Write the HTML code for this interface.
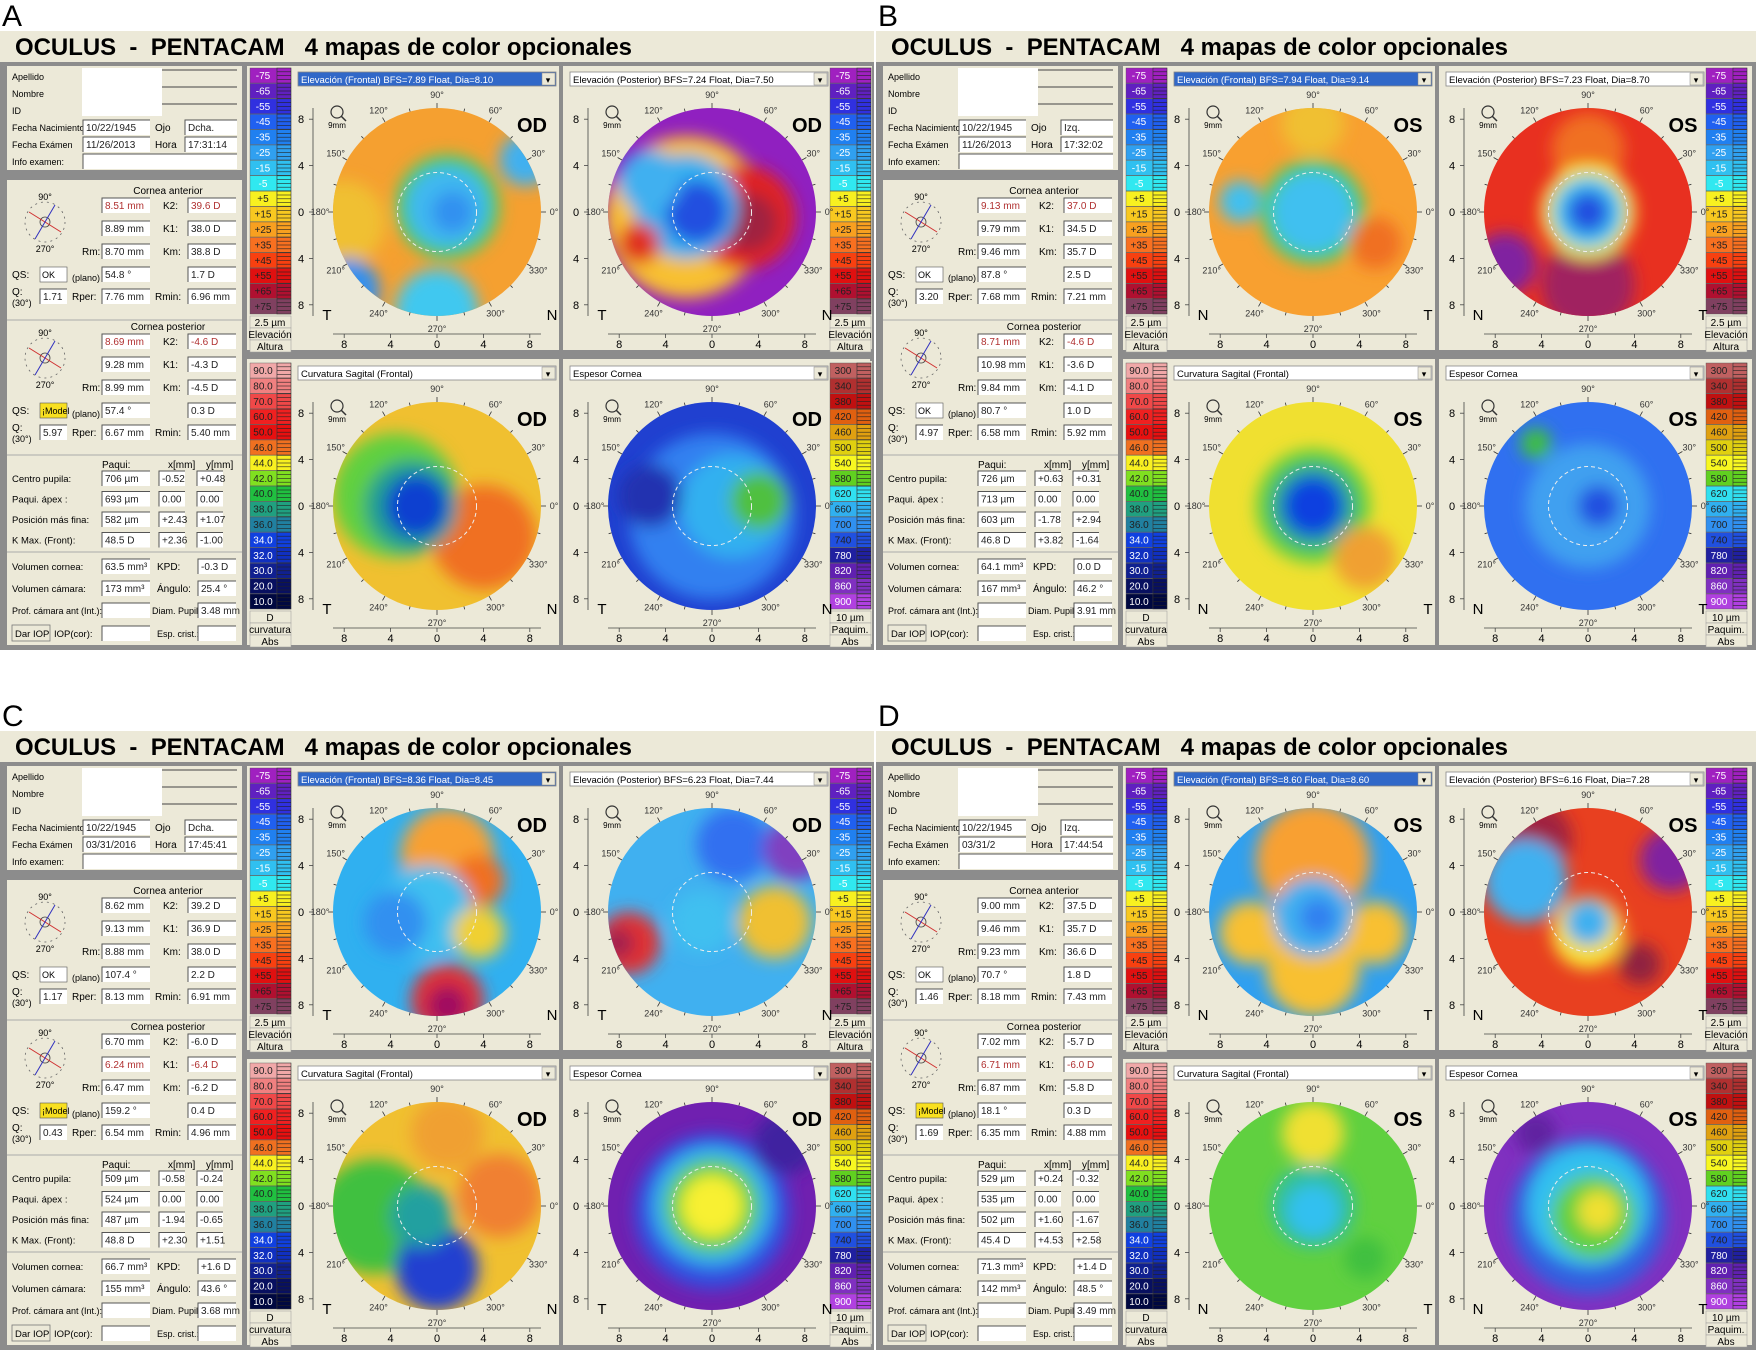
<!DOCTYPE html>
<html><head><meta charset="utf-8">
<style>
html,body{margin:0;padding:0;background:#fff;}
svg{display:block;font-family:"Liberation Sans",Arial,sans-serif;}
</style></head>
<body>
<svg id="fig" width="1756" height="1350" viewBox="0 0 1756 1350" xmlns="http://www.w3.org/2000/svg">
<defs>
<filter id="blur" x="-30%" y="-30%" width="160%" height="160%"><feGaussianBlur stdDeviation="8"/></filter>
</defs>
<rect x="0" y="0" width="1756" height="1350" fill="#ffffff"/>
</svg>
<script>
// ---- data ----
const panelLetters = ['A','B','C','D'];
const panelEyes = ['OD','OS','OD','OS'];
const elevLabels = ['-75','-65','-55','-45','-35','-25','-15','-5','+5','+15','+25','+35','+45','+55','+65','+75'];
const elevColors = ['#a020c0','#6020c0','#3030e0','#2060f0','#2080f0','#30a0f0','#30c0f0','#30e8f0','#f8f020','#f8c820','#f8a020','#f87020','#f84010','#e01010','#b01030','#804060'];
const curvLabels = ['90.0','80.0','70.0','60.0','50.0','46.0','44.0','42.0','40.0','38.0','36.0','34.0','32.0','30.0','20.0','10.0'];
const curvColors = ['#f0a8a8','#f08080','#f04848','#f02020','#e81010','#f07020','#f8f020','#80e020','#20c040','#20a080','#2080a0','#1040e0','#1030c0','#102090','#081060','#000840'];
const thickLabels = ['300','340','380','420','460','500','540','580','620','660','700','740','780','820','860','900'];
const thickColors = ['#c06060','#b03030','#c01010','#e06010','#e0a010','#e0d010','#f8f820','#60d020','#30e0f0','#30b0f0','#3090f0','#2050e0','#2020a0','#6020b0','#8030c0','#b040e0'];
const axisTicks = [8,4,0,4,8];
const dropdownTitles = [
 ['Elevación (Frontal)  BFS=7.89 Float, Dia=8.10','Elevación (Posterior)  BFS=7.24 Float, Dia=7.50','Curvatura Sagital (Frontal)','Espesor Cornea'],
 ['Elevación (Frontal)  BFS=7.94 Float, Dia=9.14','Elevación (Posterior)  BFS=7.23 Float, Dia=8.70','Curvatura Sagital (Frontal)','Espesor Cornea'],
 ['Elevación (Frontal)  BFS=8.36 Float, Dia=8.45','Elevación (Posterior)  BFS=6.23 Float, Dia=7.44','Curvatura Sagital (Frontal)','Espesor Cornea'],
 ['Elevación (Frontal)  BFS=8.60 Float, Dia=8.60','Elevación (Posterior)  BFS=6.16 Float, Dia=7.28','Curvatura Sagital (Frontal)','Espesor Cornea']];
const mapBase = [
 ['#f5a030','#9020c0','#f0c030','#2040d0'],
 ['#f8a030','#e83020','#f0e030','#3070f0'],
 ['#30b0f0','#40b0f0','#f0c030','#7020b0'],
 ['#30a0f0','#e84020','#60d040','#8030c0']];
const mapBlobs = [
 [[[-0.9,0.1,0.4,'#f0c030'],[-0.85,0.75,0.3,'#3090f0'],[0,0.95,0.4,'#40c8f0'],[0.1,-0.05,0.5,'#40d060'],[0.1,-0.05,0.4,'#40b8f0'],[0.15,0,0.2,'#3090f0'],[0.85,-0.5,0.25,'#40b0f0']],
  [[-0.25,0.05,0.78,'#f8c030'],[0.3,0.05,0.5,'#e02020'],[0.35,0.1,0.28,'#a02040'],[-0.25,-0.05,0.5,'#30b0f0'],[-0.15,0,0.3,'#2050e0'],[-0.6,-0.3,0.3,'#40b0f0'],[-0.7,0.3,0.2,'#e03020']],
  [[0.45,0.3,0.5,'#f07020'],[-0.4,-0.1,0.6,'#60d040'],[-0.25,0,0.45,'#20a090'],[-0.2,0,0.3,'#1040d0']],
  [[0,0.1,0.8,'#3080f0'],[0.2,0,0.5,'#30b0f0'],[0.45,-0.05,0.28,'#50c040'],[-0.6,-0.1,0.3,'#2030b0']]],
 [[[0,0,0.5,'#40d060'],[0,0,0.4,'#40c0f0'],[-0.7,-0.1,0.2,'#40c0f0'],[0.6,0.3,0.25,'#f07020'],[0,-0.85,0.3,'#f0c030']],
  [[0,0.7,0.45,'#a02060'],[0,-0.6,0.35,'#f07020'],[0,0,0.45,'#f8f030'],[0,0,0.35,'#40c0f0'],[0,0,0.2,'#2050e0'],[-0.8,0.5,0.3,'#8020a0']],
  [[0,0,0.55,'#60d040'],[0,0,0.4,'#20a0a0'],[0,0,0.28,'#1040e0'],[0.5,0.5,0.3,'#f0a030']],
  [[0,0,0.6,'#40a0f0'],[-0.5,-0.6,0.15,'#40c040'],[0.1,0,0.2,'#2050e0']]],
 [[[0.1,-0.55,0.45,'#f8a030'],[0.4,-0.3,0.25,'#f07020'],[-0.1,0,0.45,'#40c0f0'],[0.1,0.85,0.35,'#e03030'],[0.1,0.9,0.2,'#a01060'],[0.4,0.2,0.25,'#f0d030'],[-0.4,0.1,0.3,'#3090f0']],
  [[-0.8,0.3,0.3,'#e03030'],[-0.9,0.3,0.15,'#a02050'],[0.6,0.1,0.35,'#f0c030'],[0.2,-0.65,0.35,'#3070f0'],[-0.1,0.1,0.3,'#40c0f0'],[0.8,-0.6,0.3,'#8040c0']],
  [[-0.6,0.1,0.55,'#40c040'],[0,0.6,0.4,'#2040d0'],[0.6,-0.1,0.4,'#f08030'],[0.1,-0.7,0.35,'#f0a030'],[-0.15,0.1,0.3,'#20a0a0']],
  [[0,0.05,0.75,'#3050e0'],[0,0,0.58,'#30b0f0'],[0,0,0.45,'#60d040'],[0,0,0.3,'#f8f030'],[0.7,-0.6,0.3,'#4020a0']]],
 [[[0,-0.5,0.55,'#f8a030'],[0,0.55,0.45,'#f8c030'],[-0.6,0.2,0.3,'#f8c030'],[0.6,0.2,0.3,'#f8c030'],[0,0.05,0.38,'#40b0f0'],[0.05,0.05,0.18,'#3080f0']],
  [[-0.5,-0.7,0.35,'#a02040'],[0.8,-0.5,0.3,'#8020a0'],[-0.6,-0.3,0.4,'#40b0f0'],[0,0.2,0.35,'#f8e030'],[0,0.1,0.22,'#40b0f0'],[0.5,0.5,0.2,'#902040']],
  [[0,-0.7,0.3,'#f0e030'],[0,0,0.4,'#30c0a0'],[0,0.05,0.25,'#30c0f0'],[0.5,0.5,0.2,'#40c040']],
  [[0,0.1,0.75,'#3060e0'],[0,0,0.58,'#30c0f0'],[0.05,0.1,0.4,'#60d040'],[0.1,0.05,0.2,'#f0e030'],[-0.5,-0.7,0.2,'#6020a0']]]];
const dates = [['10/22/1945','11/26/2013','Dcha.','17:31:14'],['10/22/1945','11/26/2013','Izq.','17:32:02'],['10/22/1945','03/31/2016','Dcha.','17:45:41'],['10/22/1945','03/31/2','Izq.','17:44:54']];
const antVals = [['8.51 mm','39.6 D','8.89 mm','38.0 D','8.70 mm','38.8 D','54.8 °','1.7 D','1.71','7.76 mm','6.96 mm'],
 ['9.13 mm','37.0 D','9.79 mm','34.5 D','9.46 mm','35.7 D','87.8 °','2.5 D','3.20','7.68 mm','7.21 mm'],
 ['8.62 mm','39.2 D','9.13 mm','36.9 D','8.88 mm','38.0 D','107.4 °','2.2 D','1.17','8.13 mm','6.91 mm'],
 ['9.00 mm','37.5 D','9.46 mm','35.7 D','9.23 mm','36.6 D','70.7 °','1.8 D','1.46','8.18 mm','7.43 mm']];
const postVals = [['8.69 mm','-4.6 D','9.28 mm','-4.3 D','8.99 mm','-4.5 D','57.4 °','0.3 D','5.97','6.67 mm','5.40 mm'],
 ['8.71 mm','-4.6 D','10.98 mm','-3.6 D','9.84 mm','-4.1 D','80.7 °','1.0 D','4.97','6.58 mm','5.92 mm'],
 ['6.70 mm','-6.0 D','6.24 mm','-6.4 D','6.47 mm','-6.2 D','159.2 °','0.4 D','0.43','6.54 mm','4.96 mm'],
 ['7.02 mm','-5.7 D','6.71 mm','-6.0 D','6.87 mm','-5.8 D','18.1 °','0.3 D','1.69','6.35 mm','4.88 mm']];
const paquiVals = [[['706 µm','-0.52','+0.48'],['693 µm','0.00','0.00'],['582 µm','+2.43','+1.07'],['48.5 D','+2.36','-1.00']],
 [['726 µm','+0.63','+0.31'],['713 µm','0.00','0.00'],['603 µm','-1.78','+2.94'],['46.8 D','+3.82','-1.64']],
 [['509 µm','-0.58','-0.24'],['524 µm','0.00','0.00'],['487 µm','-1.94','-0.65'],['48.8 D','+2.30','+1.51']],
 [['529 µm','+0.24','-0.32'],['535 µm','0.00','0.00'],['502 µm','+1.60','-1.67'],['45.4 D','+4.53','+2.58']]];
const volVals = [['63.5 mm³','-0.3 D','173 mm³','25.4 °','3.48 mm'],['64.1 mm³','0.0 D','167 mm³','46.2 °','3.91 mm'],['66.7 mm³','+1.6 D','155 mm³','43.6 °','3.68 mm'],['71.3 mm³','+1.4 D','142 mm³','48.5 °','3.49 mm']];

// ---- drawing ----
const NS='http://www.w3.org/2000/svg';
const svg=document.getElementById('fig');
function mk(tag,attrs,parent){const e=document.createElementNS(NS,tag);for(const k in attrs)e.setAttribute(k,attrs[k]);(parent||svg).appendChild(e);return e;}
function txt(x,y,s,size,parent,extra){const e=mk('text',Object.assign({x:x,y:y,'font-size':size,fill:'#000'},extra||{}),parent);e.textContent=s;return e;}
let clipId=0;
const unitPx=11.6, R=104;

function scaleBar(g,x,y,labels,colors,foot){
  const sg=mk('g',{},g);
  
  
  mk('rect',{x:x,y:y,width:43,height:283,fill:'#ece9d8'},sg);
  labels.forEach((lab,i)=>{
    const cy=y+2+i*15.4;
    const c=mk('rect',{x:x+1,y:cy,width:27,height:15,fill:colors[i],stroke:'#555','stroke-width':0.4},sg);
    
    
    mk('rect',{x:x+28,y:cy,width:14,height:15,fill:colors[i],stroke:'#333','stroke-width':0.6},sg);
    for(let k=1;k<4;k++) mk('line',{x1:x+28,x2:x+42,y1:cy+k*3.8,y2:cy+k*3.8,stroke:'#222','stroke-width':0.6},sg);
    const t=txt(x+14,cy+11,lab,10,sg,{'text-anchor':'middle',fill:(i<8&&colors===elevColors)||(i>10&&colors===curvColors)||(colors===thickColors&&i>11)?'#fff':'#222'});
    
    
  });
  foot.forEach((f,i)=>{
    const fy=y+250+i*12;
    mk('rect',{x:x+1,y:fy,width:41,height:12,fill:'#ece9d8',stroke:'#999','stroke-width':0.5},sg);
    txt(x+21,fy+10,f,10,sg,{'text-anchor':'middle'});
  });
}

function mapCell(g,cx,cy,base,blobs,eye,title,active,dx,dy){
  const mg=mk('g',{},g);
  
  
  const dd=mk('rect',{x:dx,y:dy,width:258,height:14,fill:active?'#3168c8':'#fff',stroke:'#888','stroke-width':0.8},mg);
  
  
  txt(dx+3,dy+11,title,9.5,mg,{fill:active?'#fff':'#000'});
  mk('rect',{x:dx+244,y:dy+1,width:13,height:12,fill:'#ece9d8',stroke:'#888','stroke-width':0.5},mg);
  txt(dx+250,dy+11,'▾',9,mg,{'text-anchor':'middle'});
  const id='clip'+(clipId++);
  const cp=mk('clipPath',{id:id},mg);
  mk('ellipse',{cx:cx,cy:cy,rx:R,ry:R},cp);
  const dg=mk('g',{'clip-path':'url(#'+id+')'},mg);
  mk('rect',{x:cx-R,y:cy-R,width:2*R,height:2*R,fill:base},dg);
  const bg=mk('g',{filter:'url(#blur)'},dg);
  blobs.forEach(b=>{
    const c=mk('circle',{cx:cx+b[0]*R,cy:cy+b[1]*R,r:b[2]*R,fill:b[3]},bg);
    
    
  });
  mk('circle',{cx:cx,cy:cy,r:R*0.38,fill:'none',stroke:'#eee','stroke-width':1,'stroke-dasharray':'4 3'},mg);
  for(let a=0;a<360;a+=15){
    const r1=R, r2=R+(a%30===0?5:3), t=a*Math.PI/180;
    mk('line',{x1:cx+r1*Math.cos(t),y1:cy-r1*Math.sin(t),x2:cx+r2*Math.cos(t),y2:cy-r2*Math.sin(t),stroke:'#333','stroke-width':0.8},mg);
  }
  [0,30,60,90,120,150,180,210,240,270,300,330].forEach(a=>{
    const t=a*Math.PI/180;
    txt(cx+(R+13)*Math.cos(t),cy-(R+13)*Math.sin(t)+3,a+'°',9,mg,{'text-anchor':'middle',fill:'#333'});
  });
  const ax=cx-124;
  mk('line',{x1:ax,x2:ax,y1:cy-R,y2:cy+R,stroke:'#444','stroke-width':0.8},mg);
  axisTicks.forEach((v,i)=>{
    const yy=cy-(8-4*i)*unitPx;
    mk('line',{x1:ax-4,x2:ax,y1:yy,y2:yy,stroke:'#444','stroke-width':0.8},mg);
    const t=txt(ax-12,yy+4,String(v),11,mg,{'text-anchor':'middle'});
    
    
  });
  const ay=cy+122;
  mk('line',{x1:cx-R,x2:cx+R,y1:ay,y2:ay,stroke:'#444','stroke-width':0.8},mg);
  axisTicks.forEach((v,i)=>{
    const xx=cx+(-8+4*i)*unitPx;
    mk('line',{x1:xx,x2:xx,y1:ay,y2:ay+4,stroke:'#444','stroke-width':0.8},mg);
    const t=txt(xx,ay+14,String(v),11,mg,{'text-anchor':'middle'});
    
    
  });
  const el=txt(cx+95,cy-80,eye,20,mg,{'font-weight':'bold','text-anchor':'middle'});
  
  
  txt(cx-110,cy+108,eye==='OD'?'T':'N',15,mg,{'text-anchor':'middle'});
  txt(cx+115,cy+108,eye==='OD'?'N':'T',15,mg,{'text-anchor':'middle'});
  mk('circle',{cx:cx-100,cy:cy-100,r:6,fill:'none',stroke:'#333','stroke-width':1.2},mg);
  mk('line',{x1:cx-96,y1:cy-96,x2:cx-91,y2:cy-91,stroke:'#333','stroke-width':1.5},mg);
  txt(cx-100,cy-84,'9mm',8,mg,{'text-anchor':'middle'});
}

function field(g,x,y,w,val,color){
  mk('rect',{x:x,y:y-11,width:w,height:15,fill:'#fff'},g);
  mk('path',{d:`M${x} ${y+4}V${y-11}H${x+w}`,stroke:'#555','stroke-width':1,fill:'none'},g);
  if(val) txt(x+3,y,val,10,g,{fill:color||'#222'});
}

function leftColumn(g,ox,oy,p){
  const lg=mk('g',{},g);
  
  
  mk('rect',{x:ox+7,y:oy+66,width:235,height:104,fill:'#ece9d8'},lg);
  mk('rect',{x:ox+82,y:oy+68,width:80,height:48,fill:'#fff'},lg);
  ['Apellido','Nombre','ID','Fecha Nacimiento','Fecha Exámen','Info examen:'].forEach((s,i)=>txt(ox+12,oy+80+i*17,s,9,lg));
  [80,97,114].forEach(yy=>mk('line',{x1:ox+162,x2:ox+237,y1:oy+yy-10,y2:oy+yy-10,stroke:'#444','stroke-width':1},lg));
  field(lg,ox+83,oy+131,67,dates[p][0]);
  field(lg,ox+83,oy+148,67,dates[p][1]);
  txt(ox+155,oy+131,'Ojo',10,lg);txt(ox+155,oy+148,'Hora',10,lg);
  field(lg,ox+185,oy+131,52,dates[p][2]);
  field(lg,ox+185,oy+148,52,dates[p][3]);
  field(lg,ox+83,oy+165,154,'');
  mk('rect',{x:ox+7,y:oy+180,width:235,height:465,fill:'#ece9d8'},lg);
  [320,455,552].forEach(yy=>mk('line',{x1:ox+7,x2:ox+242,y1:oy+yy,y2:oy+yy,stroke:'#aaa','stroke-width':1},lg));
  function cornea(y0,title,v,redIdx){
    txt(ox+168,oy+y0,title,10,lg,{'text-anchor':'middle'});
    const rows=[y0+15,y0+38,y0+61,y0+84,y0+106];
    const gx=ox+45, gy=oy+y0+28;
    mk('circle',{cx:gx,cy:gy,r:20,fill:'none',stroke:'#666','stroke-width':0.8,'stroke-dasharray':'2 4'},lg);
    mk('circle',{cx:gx,cy:gy,r:5,fill:'none',stroke:'#444','stroke-width':0.8},lg);
    mk('line',{x1:gx-16,y1:gy-10,x2:gx+16,y2:gy+10,stroke:'#d03030','stroke-width':1},lg);
    mk('line',{x1:gx+10,y1:gy-17,x2:gx-10,y2:gy+17,stroke:'#3030c0','stroke-width':1},lg);
    txt(gx,gy-22,'90°',9,lg,{'text-anchor':'middle'});txt(gx,gy+30,'270°',9,lg,{'text-anchor':'middle'});
    field(lg,ox+102,oy+rows[0],48,v[0],redIdx===0?'#b03030':null);
    txt(ox+163,oy+rows[0],'K2:',10,lg);field(lg,ox+188,oy+rows[0],48,v[1],redIdx===0?'#b03030':null);
    field(lg,ox+102,oy+rows[1],48,v[2],redIdx===1?'#b03030':null);
    txt(ox+163,oy+rows[1],'K1:',10,lg);field(lg,ox+188,oy+rows[1],48,v[3],redIdx===1?'#b03030':null);
    txt(ox+82,oy+rows[2],'Rm:',10,lg);field(lg,ox+102,oy+rows[2],48,v[4]);
    txt(ox+163,oy+rows[2],'Km:',10,lg);field(lg,ox+188,oy+rows[2],48,v[5]);
    txt(ox+12,oy+rows[3],'QS:',10,lg);
    const isModel = title==='Cornea posterior'&&(p===0||p>=2);
    mk('rect',{x:ox+40,y:oy+rows[3]-11,width:27,height:15,fill:isModel?'#f8e020':'#fff',stroke:'#555','stroke-width':0.6},lg);
    txt(ox+42,oy+rows[3],isModel?'¡Model':'OK',9,lg);
    txt(ox+72,oy+rows[3]+3,'(plano)',9,lg);field(lg,ox+102,oy+rows[3],48,v[6]);
    field(lg,ox+188,oy+rows[3],48,v[7]);
    txt(ox+12,oy+rows[4]-5,'Q:',10,lg);txt(ox+12,oy+rows[4]+6,'(30°)',9,lg);
    field(lg,ox+40,oy+rows[4],27,v[8]);
    txt(ox+72,oy+rows[4],'Rper:',10,lg);field(lg,ox+102,oy+rows[4],48,v[9]);
    txt(ox+155,oy+rows[4],'Rmin:',10,lg);field(lg,ox+188,oy+rows[4],48,v[10]);
  }
  cornea(194,'Cornea anterior',antVals[p],p<2?0:-1);
  cornea(330,'Cornea posterior',postVals[p],p<2?0:1);
  txt(ox+102,oy+468,'Paqui:',10,lg);txt(ox+168,oy+468,'x[mm]',10,lg);txt(ox+206,oy+468,'y[mm]',10,lg);
  ['Centro pupila:','Paqui. ápex :','Posición más fina:','K Max. (Front):'].forEach((s,i)=>{
    const yy=oy+482+i*20.5;
    txt(ox+12,yy,s,9.5,lg);
    field(lg,ox+102,yy,48,paquiVals[p][i][0]);
    field(lg,ox+159,yy,26,paquiVals[p][i][1]);
    field(lg,ox+197,yy,26,paquiVals[p][i][2]);
  });
  const vv=volVals[p];
  txt(ox+12,oy+570,'Volumen cornea:',9.5,lg);field(lg,ox+102,oy+570,48,vv[0]);txt(ox+157,oy+570,'KPD:',10,lg);field(lg,ox+198,oy+570,38,vv[1]);
  txt(ox+12,oy+592,'Volumen cámara:',9.5,lg);field(lg,ox+102,oy+592,48,vv[2]);txt(ox+157,oy+592,'Ángulo:',10,lg);field(lg,ox+198,oy+592,38,vv[3]);
  txt(ox+12,oy+614,'Prof. cámara ant (Int.):',9,lg);field(lg,ox+102,oy+614,48,'');txt(ox+152,oy+614,'Diam. Pupil:',9,lg);field(lg,ox+198,oy+614,38,vv[4]);
  const b=mk('rect',{x:ox+12,y:oy+625,width:38,height:16,fill:'#ece9d8',stroke:'#777','stroke-width':0.8},lg);
  
  
  txt(ox+15,oy+637,'Dar IOP',9.5,lg);txt(ox+54,oy+637,'IOP(cor):',9.5,lg);field(lg,ox+102,oy+637,48,'');
  txt(ox+157,oy+637,'Esp. crist.:',9,lg);field(lg,ox+198,oy+637,38,'');
}

function panel(p,ox,oy,w){
  const g=mk('g',{});
  
  
  const L=txt(ox+2,oy+26,panelLetters[p],30,g);
  
  
  mk('rect',{x:ox,y:oy+31,width:w,height:31,fill:'#ece9d8'},g);
  const T=txt(ox+15,oy+55,'OCULUS\u00a0\u00a0-\u00a0\u00a0PENTACAM\u00a0\u00a0\u00a04 mapas de color opcionales',24,g,{'font-weight':'bold',textLength:617,lengthAdjust:'spacingAndGlyphs'});
  
  
  mk('rect',{x:ox,y:oy+62,width:w,height:588,fill:'#8c8c8c'},g);
  leftColumn(g,ox,oy,p);
  mk('rect',{x:ox+247,y:oy+66,width:312,height:284,fill:'#ece9d8'},g);
  mk('rect',{x:ox+563,y:oy+66,width:w-567,height:284,fill:'#ece9d8'},g);
  mk('rect',{x:ox+247,y:oy+359,width:312,height:286,fill:'#ece9d8'},g);
  mk('rect',{x:ox+563,y:oy+359,width:w-567,height:286,fill:'#ece9d8'},g);
  scaleBar(g,ox+249,oy+66,elevLabels,elevColors,['2.5 µm','Elevación','Altura']);
  scaleBar(g,ox+829,oy+66,elevLabels,elevColors,['2.5 µm','Elevación','Altura']);
  scaleBar(g,ox+249,oy+361,curvLabels,curvColors,['D','curvatura','Abs']);
  scaleBar(g,ox+829,oy+361,thickLabels,thickColors,['10 µm','Paquim.','Abs']);
  mapCell(g,ox+437,oy+212,mapBase[p][0],mapBlobs[p][0],panelEyes[p],dropdownTitles[p][0],true,ox+298,oy+72);
  mapCell(g,ox+712,oy+212,mapBase[p][1],mapBlobs[p][1],panelEyes[p],dropdownTitles[p][1],false,ox+570,oy+72);
  mapCell(g,ox+437,oy+506,mapBase[p][2],mapBlobs[p][2],panelEyes[p],dropdownTitles[p][2],false,ox+298,oy+366);
  mapCell(g,ox+712,oy+506,mapBase[p][3],mapBlobs[p][3],panelEyes[p],dropdownTitles[p][3],false,ox+570,oy+366);
}
panel(0,0,0,874);
panel(1,876,0,880);
panel(2,0,700,874);
panel(3,876,700,880);
</script>
</body></html>
